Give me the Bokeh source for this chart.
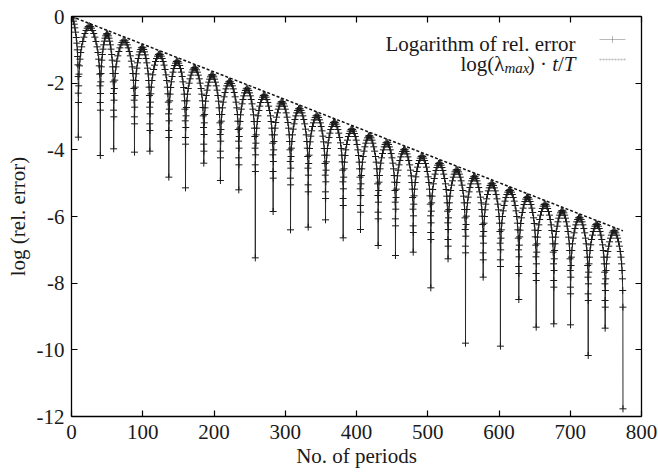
from bokeh.plotting import figure
from bokeh.models import (LinearAxis, Range1d, FixedTicker, Label, PolyAnnotation,
                          ColumnDataSource)
from bokeh.embed import file_html
from bokeh.resources import INLINE

# ---- data ----
# positions (No. of periods) and depths of the sharp minima of log(rel. error)
dip_t = [9.6, 40.5, 59.2, 88.4, 110.0, 136.6, 160.0, 185.7, 209.0, 234.8,
         258.0, 283.0, 307.4, 332.2, 356.5, 381.3, 405.6, 430.4, 454.7, 479.6,
         504.3, 528.5, 553.0, 577.8, 602.0, 627.8, 652.2, 676.9, 700.4, 725.2,
         749.0, 774.0]
dip_y = [-3.62, -4.17, -3.97, -4.07, -4.04, -4.82, -5.14, -4.40, -4.92, -5.20,
         -7.24, -5.85, -6.40, -6.32, -6.10, -6.64, -6.39, -6.87, -7.17, -7.07,
         -8.14, -7.27, -9.80, -7.82, -9.89, -8.49, -9.32, -9.22, -9.25, -10.17,
         -9.35, -11.77]
# heights of the arch tops (first one at t = 0, others between consecutive minima)
peak_y = [0.0, -0.28, -0.51, -0.71, -0.92, -1.12, -1.33, -1.53, -1.74, -1.94,
          -2.15, -2.35, -2.55, -2.75, -2.96, -3.16, -3.37, -3.57, -3.77, -3.98,
          -4.18, -4.39, -4.59, -4.79, -5.00, -5.20, -5.41, -5.62, -5.82, -6.02,
          -6.22, -6.42]
# shape of one arch flank: fraction of half-width from the top, drop below the top
arch_u = [0.0, 0.1, 0.2, 0.3, 0.4, 0.5, 0.6, 0.7, 0.78, 0.85, 0.9, 0.94, 0.97, 0.99]
arch_drop = [0.0, 0.02, 0.07, 0.14, 0.23, 0.34, 0.47, 0.63, 0.80, 1.00, 1.20, 1.45, 1.80, 2.30]
# dashed reference line log(lambda_max) * t / T
env_t = [0, 774]
env_y = [0.0, -6.43]

x_ticks = [0, 100, 200, 300, 400, 500, 600, 700, 800]
y_ticks = [0, -2, -4, -6, -8, -10, -12]
y_tick_labels = ["0", "-2", "-4", "-6", "-8", "-10", "-12"]

# ---- assemble the sampled curve from the read values ----
t_pts, y_pts = [], []
for u, dr in zip(arch_u, arch_drop):
    t_pts.append(u * dip_t[0])
    y_pts.append(peak_y[0] - dr)
t_pts.append(dip_t[0])
y_pts.append(dip_y[0])
for k in range(1, len(dip_t)):
    a, b = dip_t[k - 1], dip_t[k]
    m, h = (a + b) / 2, (b - a) / 2
    for u, dr in zip(reversed(arch_u[1:]), reversed(arch_drop[1:])):
        t_pts.append(m - u * h)
        y_pts.append(peak_y[k] - dr)
    for u, dr in zip(arch_u, arch_drop):
        t_pts.append(m + u * h)
        y_pts.append(peak_y[k] - dr)
    t_pts.append(b)
    y_pts.append(dip_y[k])

src = ColumnDataSource(data=dict(t=t_pts, y=y_pts))
env_src = ColumnDataSource(data=dict(t=env_t, y=env_y))

FONT = "Liberation Serif"
FS = "21px"
INK = "#1a1a1a"

p = figure(width=658, height=475, x_range=Range1d(0, 800), y_range=Range1d(-12, 0),
           output_backend="svg", toolbar_location=None,
           min_border_left=71, min_border_right=17, min_border_top=16, min_border_bottom=59)
p.grid.visible = False
p.outline_line_color = None
p.background_fill_color = "white"
p.border_fill_color = "white"

p.line("t", "y", source=src, line_color="#2a2a2a", line_width=1)
p.scatter("t", "y", source=src, marker="cross", size=7, line_color="#1a1a1a", line_width=1)
p.line("t", "y", source=env_src, line_color="#111111", line_width=1.5, line_dash="3 2")

def style_axis(ax, labels=True):
    ax.axis_line_color = "black"
    ax.axis_line_width = 1.3
    ax.major_tick_line_color = "black"
    ax.major_tick_line_width = 1.2
    ax.major_tick_in = 6
    ax.major_tick_out = 0
    ax.minor_tick_line_color = None
    if labels:
        ax.major_label_text_font = FONT
        ax.major_label_text_font_size = FS
        ax.major_label_text_color = INK
        ax.axis_label_text_font = FONT
        ax.axis_label_text_font_size = FS
        ax.axis_label_text_font_style = "normal"
        ax.axis_label_text_color = INK
    else:
        ax.major_label_text_font_size = "1px"
        ax.major_label_text_color = None
        ax.major_label_standoff = 0

xa = p.xaxis[0]
xa.ticker = FixedTicker(ticks=x_ticks)
xa.axis_label = "No. of periods"
style_axis(xa)
xa.major_label_standoff = 8
xa.axis_label_standoff = 2

ya = p.yaxis[0]
ya.ticker = FixedTicker(ticks=y_ticks)
ya.major_label_overrides = {t: s for t, s in zip(y_ticks, y_tick_labels)}
ya.axis_label = "log (rel. error)"
style_axis(ya)
ya.major_label_standoff = 7
ya.axis_label_standoff = 4

top = LinearAxis(ticker=FixedTicker(ticks=x_ticks))
style_axis(top, labels=False)
p.add_layout(top, "above")
right = LinearAxis(ticker=FixedTicker(ticks=y_ticks))
style_axis(right, labels=False)
p.add_layout(right, "right")

# ---- legend (label right-aligned, sample on the right, frame screen units) ----
def lab(x, y, text, size=FS, style="normal"):
    p.add_layout(Label(x=x, y=y, x_units="screen", y_units="screen", text=text,
                       text_font=FONT, text_font_size=size, text_font_style=style,
                       text_color=INK, text_align="right", text_baseline="alphabetic"))

R = 504
Y1, Y2 = 373, 353
lab(R, Y1, "Logarithm of rel. error")
lab(R, Y2, "T", style="italic")
lab(R - 11.7, Y2, "/")
lab(R - 17.5, Y2, "t", style="italic")
lab(R - 23.3, Y2, ") \u00b7 ")
lab(R - 46.0, Y2 - 4.5, "max", size="15px", style="italic")
lab(R - 71.0, Y2, "log(\u03bb")

p.add_layout(PolyAnnotation(xs=[528, 554], ys=[Y1 + 4, Y1 + 4], xs_units="screen", ys_units="screen",
                            line_color="#1a1a1a", line_width=1, fill_alpha=0))
p.add_layout(PolyAnnotation(xs=[541, 541], ys=[Y1 + 0.5, Y1 + 7.5], xs_units="screen", ys_units="screen",
                            line_color="#1a1a1a", line_width=1, fill_alpha=0))
p.add_layout(PolyAnnotation(xs=[528, 555], ys=[Y2 + 4, Y2 + 4], xs_units="screen", ys_units="screen",
                            line_color="#111111", line_width=1.5, line_dash="2 1", fill_alpha=0))

open("out.html", "w").write(file_html(p, INLINE))
